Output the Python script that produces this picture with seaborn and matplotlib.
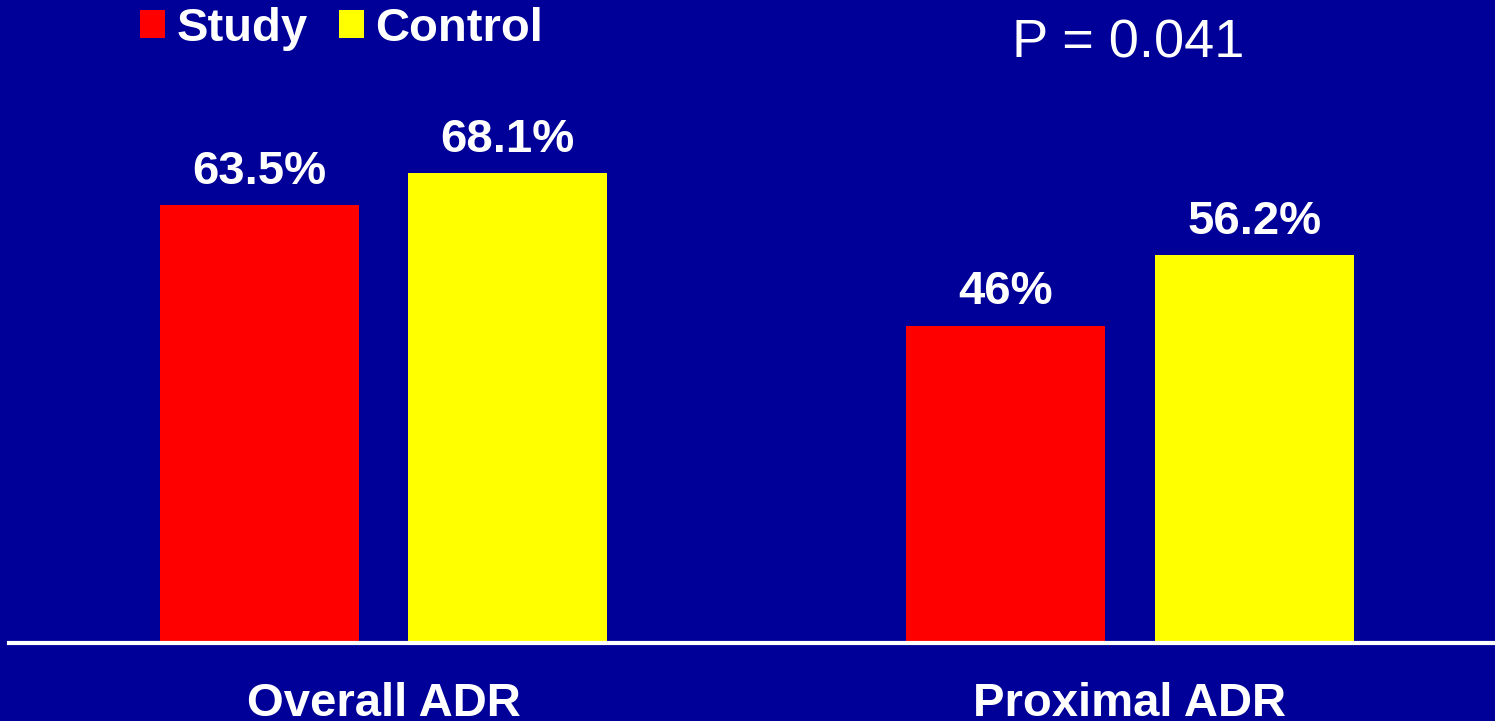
import matplotlib
matplotlib.use("Agg")
import matplotlib.pyplot as plt
import seaborn as sns
import pandas as pd

# --- data ---
categories = ["Overall ADR", "Proximal ADR"]
groups = ["Study", "Control"]
study_vals = [63.5, 46.0]
control_vals = [68.1, 56.2]
p_text = "P = 0.041"

bg = "#000099"
palette = {"Study": "#FF0000", "Control": "#FFFF00"}

df = pd.DataFrame({
    "Category": categories * 2,
    "Group": [groups[0]] * len(categories) + [groups[1]] * len(categories),
    "ADR": study_vals + control_vals,
})

sns.set_theme(style="white")
plt.rcParams["font.family"] = ["Liberation Sans", "DejaVu Sans"]

fig = plt.figure(figsize=(14.95, 7.21), dpi=100, facecolor=bg)
ax = fig.add_axes([9 / 1495, 78 / 721, 1486 / 1495, 563 / 721])
ax.set_facecolor(bg)

sns.barplot(data=df, x="Category", y="ADR", hue="Group", order=categories,
            hue_order=groups, palette=palette, width=0.666, gap=0.2,
            saturation=1, linewidth=0, ax=ax)

ax.set_xlim(-0.5017, 1.489)
ax.set_ylim(0, 563 / 6.9)

# value labels above bars
for cont in ax.containers:
    vals = [b.get_height() for b in cont]
    ax.bar_label(cont, labels=[f"{v:g}%" for v in vals], padding=8,
                 fontsize=34, fontweight="bold", color="white")

# axes styling
for side in ["top", "left", "right"]:
    ax.spines[side].set_visible(False)
ax.spines["bottom"].set_color("white")
ax.spines["bottom"].set_linewidth(3)
ax.set_yticks([])
ax.set_xlabel("")
ax.set_ylabel("")
ax.tick_params(axis="x", length=0, pad=28, labelsize=34, labelcolor="white")
for lbl in ax.get_xticklabels():
    lbl.set_fontweight("bold")

sns.move_legend(ax, loc="center left", bbox_to_anchor=(140 / 1495, (721 - 29) / 721),
                bbox_transform=fig.transFigure, ncol=2, frameon=False, title=None,
                handlelength=0.53, handleheight=0.53, handletextpad=0.25,
                columnspacing=0.65, borderpad=0, borderaxespad=0,
                prop={"size": 34, "weight": "bold"}, labelcolor="white")

fig.text(1012 / 1495, (721 - 57) / 721, p_text, fontsize=39, color="white",
         ha="left", va="baseline")

fig.savefig("out.png", dpi=100, facecolor=bg)
